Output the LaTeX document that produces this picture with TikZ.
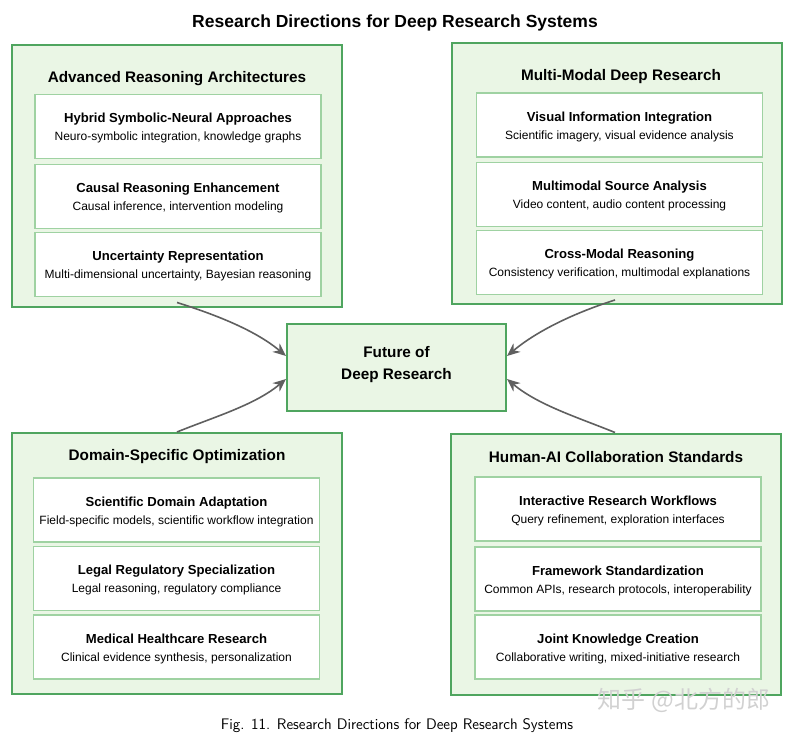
\documentclass[tikz,border=0pt]{standalone}
\usepackage{fontspec}
\setmainfont{Liberation Sans}
\newfontfamily\cjkfont{Noto Sans CJK SC}
\usetikzlibrary{arrows.meta}
\definecolor{gborder}{HTML}{4FA55F}
\definecolor{gfill}{HTML}{EAF6E5}
\definecolor{ginner}{HTML}{9FD2A2}
\definecolor{arrgray}{HTML}{5F5F5F}
\tikzset{
  outerbox/.style={draw=gborder, line width=2pt, fill=gfill, inner sep=0pt, minimum width=330pt, minimum height=261pt},
  innerbox/.style={draw=ginner, line width=1.3pt, fill=white, inner sep=0pt, minimum width=286pt, minimum height=64pt},
  innertext/.style={align=center, inner sep=0pt, font=\fontsize{12}{18}\selectfont},
  grouptitle/.style={font=\bfseries\fontsize{15.3}{17}\selectfont, inner sep=0pt},
  centerbox/.style={draw=gborder, line width=2pt, fill=gfill, inner sep=0pt, minimum width=219pt, minimum height=87pt},
  centertext/.style={align=center, inner sep=0pt, font=\bfseries\fontsize{15.3}{22}\selectfont},
  flowarrow/.style={draw=arrgray, line width=1.6pt, -{Stealth[length=13pt,width=11pt]}},
}
\newcommand{\itemtitle}[1]{{\bfseries\fontsize{13.1}{18}\selectfont #1}}
% \itembox{name}{x}{y}{title}{subtitle}
\newcommand{\itembox}[5]{%
  \node[innerbox] (#1) at (#2,#3) {};
  \node[innertext] (#1t) at (#2,#3+1.5) {\itemtitle{#4}\\#5};
}
\begin{document}
\begin{tikzpicture}[x=1pt,y=-1pt]
\useasboundingbox (0,0) rectangle (789,733);
\node[font=\bfseries\fontsize{17.5}{20}\selectfont] (title) at (395,23) {Research Directions for Deep Research Systems};

% Top-left
\node[outerbox] (tl) at (177,176) {};
\node[grouptitle] (tlt) at (177,79) {Advanced Reasoning Architectures};
\itembox{tl1}{178}{126.5}{Hybrid Symbolic-Neural Approaches}{Neuro-symbolic integration, knowledge graphs}
\itembox{tl2}{178}{196.5}{Causal Reasoning Enhancement}{Causal inference, intervention modeling}
\itembox{tl3}{178}{264.5}{Uncertainty Representation}{Multi-dimensional uncertainty, Bayesian reasoning}

% Top-right
\node[outerbox] (tr) at (616.5,173.5) {};
\node[grouptitle] (trt) at (621,77) {Multi-Modal Deep Research};
\itembox{tr1}{619.5}{125}{Visual Information Integration}{Scientific imagery, visual evidence analysis}
\itembox{tr2}{619.5}{194.5}{Multimodal Source Analysis}{Video content, audio content processing}
\itembox{tr3}{619.5}{262.5}{Cross-Modal Reasoning}{Consistency verification, multimodal explanations}

% Bottom-left
\node[outerbox] (bl) at (177,563.5) {};
\node[grouptitle] (blt) at (177,457) {Domain-Specific Optimization};
\itembox{bl1}{176.5}{510}{Scientific Domain Adaptation}{Field-specific models, scientific workflow integration}
\itembox{bl2}{176.5}{578.5}{Legal Regulatory Specialization}{Legal reasoning, regulatory compliance}
\itembox{bl3}{176.5}{647}{Medical Healthcare Research}{Clinical evidence synthesis, personalization}

% Bottom-right
\node[outerbox] (br) at (616,564) {};
\node[grouptitle] (brt) at (616,457) {Human-AI Collaboration Standards};
\itembox{br1}{618}{509}{Interactive Research Workflows}{Query refinement, exploration interfaces}
\itembox{br2}{618}{579}{Framework Standardization}{Common APIs, research protocols, interoperability}
\itembox{br3}{618}{647}{Joint Knowledge Creation}{Collaborative writing, mixed-initiative research}

% Center
\node[centerbox] (c) at (396.5,367.5) {};
\node[centertext] (ct) at (396.5,365) {Future of\\Deep Research};

% Arrows
\draw[flowarrow] ([yshift=5pt]tl.south) .. controls +(38,12) and +(-31,-26) .. ([yshift=11.5pt]c.west);
\draw[flowarrow] (bl.north) .. controls +(37,-15) and +(-31,26) .. ([yshift=-11.5pt]c.west);
\draw[flowarrow] ([xshift=-1.5pt,yshift=5pt]tr.south) .. controls +(-38,12) and +(31,-26) .. ([yshift=11.5pt]c.east);
\draw[flowarrow] ([xshift=-1pt]br.north) .. controls +(-37,-15) and +(31,26) .. ([yshift=-11.5pt]c.east);

% Caption
\node[font=\sffamily\fontsize{15.3}{18}\selectfont] (cap) at (397,726) {Fig. 11. Research Directions for Deep Research Systems};

% Watermark
\node[font=\cjkfont\fontsize{24}{26}\selectfont, text=black!18] (wm) at (684,700) {知乎 @北方的郎};
\end{tikzpicture}
\end{document}
